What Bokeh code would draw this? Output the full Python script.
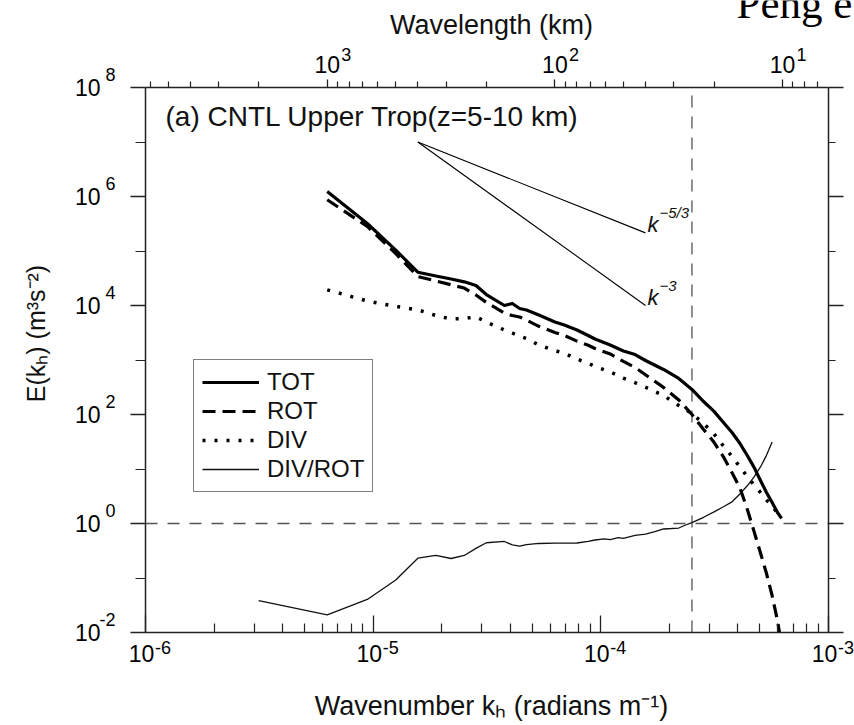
import math
from bokeh.plotting import figure
from bokeh.models import (Range1d, LogScale, LogAxis, FixedTicker, CustomJSTickFormatter,
                          Legend, LegendItem, Label)
from bokeh.embed import file_html
from bokeh.resources import INLINE

# ---------------- data ----------------
# wavenumbers (radians m^-1)
k_main = [6.2832e-6, 9.4248e-6, 1.2566e-5, 1.5708e-5, 1.8850e-5, 2.1991e-5, 2.5133e-5,
          2.8274e-5, 3.1416e-5, 3.7699e-5, 4.0841e-5, 4.3982e-5, 4.7124e-5, 5.3407e-5,
          6.2832e-5, 6.9115e-5, 7.8540e-5, 8.7965e-5, 9.4248e-5, 1.0996e-4, 1.2566e-4,
          1.4137e-4, 1.5708e-4, 1.8850e-4, 2.1991e-4, 2.5133e-4, 2.8274e-4, 3.1416e-4,
          3.4558e-4, 3.7699e-4, 4.0841e-4, 4.3982e-4, 4.7124e-4, 5.0265e-4, 5.3407e-4,
          5.6549e-4, 5.9690e-4, 6.2204e-4]
tot = [1.24e6, 3.20e5, 1.04e5, 4.08e4, 3.48e4, 3.06e4, 2.72e4, 2.33e4, 1.59e4, 1.00e4,
       1.09e4, 8.81e3, 8.26e3, 6.70e3, 4.98e3, 4.39e3, 3.55e3, 2.82e3, 2.43e3, 1.88e3,
       1.46e3, 1.26e3, 979, 670, 458, 288, 173, 114, 71.3, 46.8, 29.4, 17.7, 10.7, 6.15,
       3.71, 2.43, 1.59, 1.24]
div = [1.94e4, 1.21e4, 9.62e3, 8.34e3, 6.56e3, 5.65e3, 5.77e3, 6.19e3, 4.98e3, 3.55e3,
       3.13e3, 2.74e3, 2.48e3, 1.89e3, 1.49e3, 1.33e3, 1.04e3, 873, 764, 607, 466, 383,
       316, 223, 146, 104, 68.4, 43.9, 26.4, 16.9, 10.9, 7.28, 5.07, 3.71, 2.69, 2.14,
       1.52, 1.24]
# ROT leaves the plot through the bottom axis near k = 6.09e-4
k_rot = [6.2832e-6, 9.4248e-6, 1.2566e-5, 1.5708e-5, 1.8850e-5, 2.1991e-5, 2.5133e-5,
         2.8274e-5, 3.1416e-5, 3.7699e-5, 4.0841e-5, 4.3982e-5, 4.7124e-5, 5.3407e-5,
         6.2832e-5, 6.9115e-5, 7.8540e-5, 8.7965e-5, 9.4248e-5, 1.0996e-4, 1.2566e-4,
         1.4137e-4, 1.5708e-4, 1.8850e-4, 2.1991e-4, 2.5133e-4, 2.8274e-4, 3.1416e-4,
         3.4558e-4, 3.7699e-4, 4.0841e-4, 4.3982e-4, 4.7124e-4, 5.0265e-4, 5.3407e-4,
         5.6549e-4, 5.9690e-4, 6.09e-4]
rot = [8.71e5, 2.82e5, 8.99e4, 3.40e4, 2.82e4, 2.40e4, 2.09e4, 1.56e4, 1.14e4, 7.28e3,
       6.56e3, 6.15e3, 5.40e3, 4.15e3, 3.20e3, 2.82e3, 2.22e3, 1.87e3, 1.63e3, 1.29e3,
       942, 726, 537, 314, 185, 100, 53.3, 30.9, 16.7, 8.51, 4.50, 1.82, 0.710, 0.288,
       0.121, 0.0473, 0.0166, 0.0100]

k_ratio = [3.1416e-6, 6.2832e-6, 9.4248e-6, 1.2566e-5, 1.5708e-5, 1.8850e-5, 2.1991e-5,
           2.5133e-5, 2.8274e-5, 3.1416e-5, 3.7699e-5, 4.0841e-5, 4.3982e-5, 4.7124e-5,
           5.3407e-5, 6.2832e-5, 7.8540e-5, 8.7965e-5, 9.4248e-5, 1.0367e-4, 1.0996e-4,
           1.1938e-4, 1.2566e-4, 1.4137e-4, 1.5708e-4, 1.7279e-4, 1.8850e-4, 2.0420e-4,
           2.1991e-4, 2.3562e-4, 2.5133e-4, 2.8274e-4, 3.1416e-4, 3.4558e-4, 3.7699e-4,
           4.0841e-4, 4.3982e-4, 4.7124e-4, 5.0265e-4, 5.3407e-4, 5.6549e-4]
div_rot = [0.0386, 0.0211, 0.0404, 0.0918, 0.231, 0.259, 0.228, 0.259, 0.349, 0.443,
           0.468, 0.404, 0.386, 0.408, 0.430, 0.437, 0.439, 0.471, 0.498, 0.520, 0.508,
           0.553, 0.531, 0.603, 0.641, 0.713, 0.793, 0.809, 0.826, 0.938, 1.04, 1.30,
           1.63, 2.03, 2.50, 3.49, 4.92, 7.16, 10.9, 17.8, 31.3]

# reference slopes k^-5/3 and k^-3
ref_k = [1.5708e-5, 1.5708e-4]
ref_53 = [1.0e7, 2.15e5]
ref_3 = [1.0e7, 1.0e4]

k_cut = 2.5133e-4          # vertical dashed line (25 km)
unity = 1.0                # horizontal dashed line

# axis ticks
x_major = [1e-6, 1e-5, 1e-4, 1e-3]
x_minor = [m * 10.0 ** e for e in (-6, -5, -4) for m in range(2, 10)]
y_major = [1e-2, 1e0, 1e2, 1e4, 1e6, 1e8]
y_minor = [1e-1, 1e1, 1e3, 1e5, 1e7]
wl_major = [1000, 100, 10]
wl_minor = ([2000, 3000, 4000, 5000, 6000] + [m * 100 for m in range(2, 10)]
            + [m * 10 for m in range(2, 10)] + [7, 8, 9])

legend_labels = ["TOT", "ROT", "DIV", "DIV/ROT"]
title_text = "(a) CNTL Upper Trop(z=5-10 km)"
x_title = "Wavenumber k\u2095 (radians m\u207b\u00b9)"
y_title = "E(k\u2095) (m\u00b3s\u207b\u00b2)"
top_title = "Wavelength (km)"
corner_text = "Peng e"

# ---------------- layout (pixels) ----------------
W, H = 854, 725
BOX_L, BOX_R, BOX_T, BOX_B = 145, 828, 87, 632
XPD = (BOX_R - BOX_L) / 3.0      # px per decade along x
YPD = (BOX_B - BOX_T) / 10.0     # px per decade along y
LX0, LY0 = math.log10(x_major[0]), math.log10(y_major[-1])

def px2x(px):
    return 10 ** (LX0 + (px - BOX_L) / XPD)

def py2y(py):
    return 10 ** (LY0 - (py - BOX_T) / YPD)

x_lo, x_hi = px2x(0), px2x(W)
y_lo, y_hi = py2y(H), py2y(0)
TWO_PI_KM = 2 * math.pi / 1000.0          # wavelength (km) = 2*pi / k / 1000
wl_lo, wl_hi = TWO_PI_KM / x_lo, TWO_PI_KM / x_hi
wl_box = (TWO_PI_KM / x_major[-1], TWO_PI_KM / x_major[0])

FONT = "Liberation Sans"
AX = "#222222"
TXT = "#111111"

p = figure(width=W, height=H, x_axis_type="log", y_axis_type="log",
           x_axis_location=None, y_axis_location=None,
           x_range=Range1d(x_lo, x_hi), y_range=Range1d(y_lo, y_hi),
           output_backend="svg", toolbar_location=None)
p.title.visible = False
p.min_border = 0
p.min_border_left = p.min_border_right = p.min_border_top = p.min_border_bottom = 0
p.outline_line_color = None
p.grid.visible = False
p.background_fill_color = "white"
p.border_fill_color = "white"

# shifted ranges that place "10" and its exponent beside each tick
fxt = 10 ** (-4 / XPD)     # bottom "10": 4 px left of the tick
fx = 10 ** (17.5 / XPD)    # bottom exponent: 17.5 px right of the tick
fw = 10 ** (19 / XPD)      # top exponent: 19 px right of the tick
fy = 10 ** (13 / YPD)      # left exponent: 13 px above the tick
p.extra_x_ranges = {"wl": Range1d(wl_lo, wl_hi),
                    "xten": Range1d(x_lo / fxt, x_hi / fxt),
                    "xexp": Range1d(x_lo / fx, x_hi / fx),
                    "wlexp": Range1d(wl_lo * fw, wl_hi * fw)}
p.extra_x_scales = {"wl": LogScale(), "xten": LogScale(), "xexp": LogScale(),
                    "wlexp": LogScale()}
p.extra_y_ranges = {"yexp": Range1d(y_lo / fy, y_hi / fy)}
p.extra_y_scales = {"yexp": LogScale()}

BLANK = CustomJSTickFormatter(code="return '';")
TEN = CustomJSTickFormatter(code="return '10';")
EXP = CustomJSTickFormatter(code="return String(Math.round(Math.log10(tick)));")

def axis(side, ticks, minor, fixed, fmt, standoff, tin=0, tout=0, mtin=0, mtout=0,
         size="23px", line=True, bounds=None, **kw):
    ax = LogAxis(ticker=FixedTicker(ticks=ticks, minor_ticks=minor), fixed_location=fixed,
                 formatter=fmt, **kw)
    if bounds is not None:
        ax.bounds = bounds
    ax.axis_line_color = AX if line else None
    ax.major_tick_line_color = AX if line else None
    ax.minor_tick_line_color = AX if line else None
    ax.axis_line_width = 1.5
    ax.major_tick_line_width = 1.3
    ax.minor_tick_line_width = 1.2
    ax.major_tick_in, ax.major_tick_out = tin, tout
    ax.minor_tick_in, ax.minor_tick_out = mtin, mtout
    ax.major_label_standoff = standoff
    ax.major_label_text_font = FONT
    ax.major_label_text_font_size = size
    ax.major_label_text_color = "black"
    p.add_layout(ax, side)
    return ax

xb = (x_major[0], x_major[-1])
yb = (y_major[0], y_major[-1])
# bottom
axis("below", x_major, x_minor, y_major[0], BLANK, 0, tin=17, mtin=9, bounds=xb)
axis("below", x_major, [], y_major[0], TEN, 12, line=False, x_range_name="xten")
axis("below", x_major, [], y_major[0], EXP, 8, size="18px", line=False, x_range_name="xexp")
# left
axis("left", y_major, y_minor, x_major[0], TEN, 30, tout=15, mtout=10, bounds=yb)
axis("left", y_major, [], x_major[0], EXP, 30, size="18px", line=False, y_range_name="yexp")
# right (ticks only)
axis("right", y_major, y_minor, x_major[-1], BLANK, 0, tout=15, mtout=7, bounds=yb)
# top: wavelength (km)
axis("above", wl_major, wl_minor, y_major[-1], TEN, 7, tout=8, mtout=6, bounds=wl_box,
     x_range_name="wl")
axis("above", wl_major, [], y_major[-1], EXP, 27, size="18px", line=False,
     x_range_name="wlexp")

# dashed guide lines
p.line([x_major[0], x_major[-1]], [unity, unity], line_color="#555555", line_width=1.3,
       line_dash="12 10")
p.line([k_cut, k_cut], [y_major[0], y_major[-1]], line_color="#555555", line_width=1.3,
       line_dash="12 9")

# reference slopes
p.line(ref_k, ref_53, line_color="black", line_width=1.1)
p.line(ref_k, ref_3, line_color="black", line_width=1.1)

# spectra
r_ratio = p.line(k_ratio, div_rot, line_color=TXT, line_width=1.3)
r_div = p.line(k_main, div, line_color="black", line_width=3.5, line_dash="3 9")
r_rot = p.line(k_rot, rot, line_color="black", line_width=3.2, line_dash="13 7")
r_tot = p.line(k_main, tot, line_color="black", line_width=3.2, line_join="round")

# texts (anchored at the middle of their text box)
def lab(**kw):
    base = dict(text_font=FONT, text_color=TXT, text_baseline="middle", text_align="left")
    base.update(kw)
    p.add_layout(Label(**base))

lab(x=px2x(165), y=py2y(115.5), text=title_text, text_font_size="28px")
for yv in (ref_53[1], ref_3[1]):
    lab(x=ref_k[1], y=yv, text="k", x_offset=2, y_offset=8, text_font_size="22px",
        text_font_style="italic")
lab(x=ref_k[1], y=ref_53[1], text="\u22125/3", x_offset=14, y_offset=20,
    text_font_size="15px", text_font_style="italic")
lab(x=ref_k[1], y=ref_3[1], text="\u22123", x_offset=14, y_offset=20,
    text_font_size="15px", text_font_style="italic")

lab(x=px2x(491), y=py2y(24.5), text=top_title, text_align="center", text_font_size="27px")
lab(x=px2x(491), y=py2y(705), text=x_title, text_align="center", text_font_size="27px")
lab(x=px2x(35), y=py2y(333), text=y_title, text_align="center", angle=math.pi / 2,
    text_font_size="25px")
lab(x=px2x(736), y=py2y(3), text=corner_text, text_font="Liberation Serif",
    text_font_size="43px", text_color="black")

legend = Legend(items=[LegendItem(label=legend_labels[0], renderers=[r_tot]),
                       LegendItem(label=legend_labels[1], renderers=[r_rot]),
                       LegendItem(label=legend_labels[2], renderers=[r_div]),
                       LegendItem(label=legend_labels[3], renderers=[r_ratio])],
                location=(193, H - 492), margin=0, padding=8, spacing=1,
                glyph_width=57, glyph_height=26, label_height=26, label_standoff=8,
                label_text_font=FONT, label_text_font_size="24px", label_text_color=TXT,
                border_line_color="black", border_line_width=1.5,
                background_fill_color="white", background_fill_alpha=1.0)
p.add_layout(legend)

open("out.html", "w", encoding="utf-8").write(file_html(p, INLINE))
